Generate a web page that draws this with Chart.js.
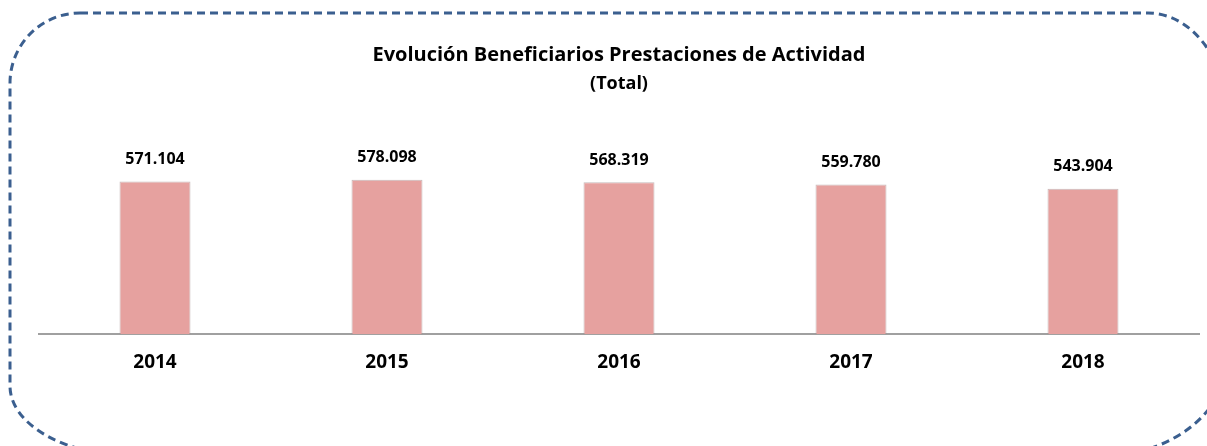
<!DOCTYPE html>
<html>
<head>
<meta charset="utf-8">
<script src="https://cdn.jsdelivr.net/npm/chart.js@4"></script>
<style>
    html, body { margin: 0; padding: 0; background: #ffffff; overflow: hidden; }
    canvas { display: block; }
</style>
</head>
<body>
<canvas id="beneficiariosChart" width="1207" height="446"></canvas>
<script>
// Data
const years = ["2014", "2015", "2016", "2017", "2018"];
const beneficiarios = [571104, 578098, 568319, 559780, 543904];
const chartTitle = "Evolución Beneficiarios Prestaciones de Actividad";
const chartSubtitle = "(Total)";

const FONT = "'Open Sans', 'Noto Sans', sans-serif";

// miles con punto, como en el original
function formatNum(v) {
    return String(v).replace(/\B(?=(\d{3})+(?!\d))/g, ".");
}

// Dashed rounded frame around the whole chart (right and bottom edges run off the page)
const framePlugin = {
    id: "frame",
    beforeDraw(chart) {
        const ctx = chart.ctx;
        const left = 10, top = 13, right = 1228, bottom = 456;
        // corners: top-left, top-right, bottom-right, bottom-left
        const radii = [
            { x: 70, y: 70 },
            { x: 80, y: 107 },
            { x: 126, y: 100 },
            { x: 124, y: 70 }
        ];
        ctx.save();
        ctx.strokeStyle = "#3b5f8f";
        ctx.lineWidth = 3;
        ctx.setLineDash([8, 5]);
        ctx.beginPath();
        ctx.roundRect(left, top, right - left, bottom - top, radii);
        ctx.stroke();
        ctx.restore();
    }
};

// Value labels above each bar
const valueLabels = {
    id: "valueLabels",
    afterDatasetsDraw(chart) {
        const ctx = chart.ctx;
        const meta = chart.getDatasetMeta(0);
        ctx.save();
        ctx.font = "bold 16px " + FONT;
        ctx.fillStyle = "#000000";
        ctx.textAlign = "center";
        ctx.textBaseline = "middle";
        meta.data.forEach((bar, i) => {
            ctx.fillText(formatNum(beneficiarios[i]), bar.x, bar.y - 22);
        });
        ctx.restore();
    }
};

const ctx = document.getElementById("beneficiariosChart").getContext("2d");
new Chart(ctx, {
    type: "bar",
    data: {
        labels: years,
        datasets: [{
            data: beneficiarios,
            backgroundColor: "#e6a19f",
            borderColor: "rgba(160,140,140,0.6)",
            borderWidth: 1,
            categoryPercentage: 1,
            barPercentage: 0.306
        }]
    },
    options: {
        responsive: false,
        animation: false,
        layout: { padding: { left: 39, right: 8, top: 0, bottom: 55 } },
        plugins: {
            legend: { display: false },
            tooltip: { enabled: false },
            title: {
                display: true,
                text: chartTitle,
                color: "#000000",
                font: { family: FONT, size: 20, weight: "bold" },
                padding: { top: 43, bottom: 0 }
            },
            subtitle: {
                display: true,
                text: chartSubtitle,
                color: "#000000",
                font: { family: FONT, size: 18, weight: "bold" },
                padding: { top: 6, bottom: 3 }
            }
        },
        scales: {
            x: {
                grid: { display: false, drawTicks: false },
                border: { display: true, color: "#a0a0a0", width: 2 },
                ticks: {
                    color: "#000000",
                    padding: 17,
                    font: { family: FONT, size: 19, weight: "bold" }
                }
            },
            y: {
                display: false,
                min: 0,
                max: 885000
            }
        }
    },
    plugins: [framePlugin, valueLabels]
});
</script>
</body>
</html>
